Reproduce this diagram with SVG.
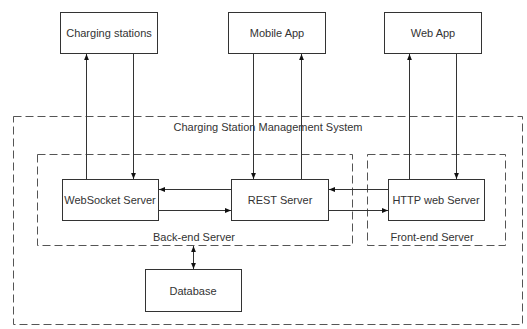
<svg xmlns="http://www.w3.org/2000/svg" width="527" height="329" viewBox="0 0 527 329">
<style>
.box{fill:#fff;stroke:#333;stroke-width:1}
.grp{fill:none;stroke:#555;stroke-width:1;stroke-dasharray:8 4}
.lbl{font-family:"Liberation Sans",Arial,sans-serif;font-size:11px;fill:#333;text-anchor:middle;dominant-baseline:central}
.cn{fill:none;stroke:#333;stroke-width:1}
</style>
<defs>
<marker id="ah" viewBox="0 0 10 10" refX="10" refY="5" markerWidth="6" markerHeight="6" orient="auto-start-reverse" markerUnits="userSpaceOnUse">
<path d="M0,1 L10,5 L0,9 Z" fill="#111"/>
</marker>
</defs>
<rect width="527" height="329" fill="#fff"/>
<g id="csms">
<rect class="grp" x="13.5" y="116.5" width="509" height="208"/>
<text class="lbl" x="268" y="127">Charging Station Management System</text>
</g>
<g id="backend">
<rect class="grp" x="37.5" y="154.5" width="315" height="91"/>
<text class="lbl" x="194" y="237">Back-end Server</text>
</g>
<g id="frontend">
<rect class="grp" x="367.5" y="154.5" width="138" height="91"/>
<text class="lbl" x="432" y="237">Front-end Server</text>
</g>
<g id="charging-stations">
<rect class="box" x="60.5" y="12.5" width="97" height="41"/>
<text class="lbl" x="109" y="33">Charging stations</text>
</g>
<g id="mobile-app">
<rect class="box" x="228.5" y="12.5" width="97" height="41"/>
<text class="lbl" x="277" y="33">Mobile App</text>
</g>
<g id="web-app">
<rect class="box" x="384.5" y="12.5" width="97" height="41"/>
<text class="lbl" x="433" y="33">Web App</text>
</g>
<g id="websocket-server">
<rect class="box" x="62.5" y="179.5" width="96" height="41"/>
<text class="lbl" x="110" y="200">WebSocket Server</text>
</g>
<g id="rest-server">
<rect class="box" x="231.5" y="179.5" width="97" height="41"/>
<text class="lbl" x="280" y="200">REST Server</text>
</g>
<g id="http-web-server">
<rect class="box" x="388.5" y="179.5" width="96" height="41"/>
<text class="lbl" x="436" y="200">HTTP web Server</text>
</g>
<g id="database">
<rect class="box" x="145.5" y="269.5" width="96" height="42"/>
<text class="lbl" x="193" y="291">Database</text>
</g>
<g id="connectors">
<path class="cn" d="M86.5,179 V54" marker-end="url(#ah)"/>
<path class="cn" d="M133.5,54 V179" marker-end="url(#ah)"/>
<path class="cn" d="M253.5,54 V179" marker-end="url(#ah)"/>
<path class="cn" d="M301.5,179 V54" marker-end="url(#ah)"/>
<path class="cn" d="M409.5,179 V54" marker-end="url(#ah)"/>
<path class="cn" d="M456.5,54 V179" marker-end="url(#ah)"/>
<path class="cn" d="M231,189.5 H159" marker-end="url(#ah)"/>
<path class="cn" d="M159,210.5 H231" marker-end="url(#ah)"/>
<path class="cn" d="M388,189.5 H329" marker-end="url(#ah)"/>
<path class="cn" d="M329,210.5 H388" marker-end="url(#ah)"/>
<path class="cn" d="M193.5,246 V269" marker-start="url(#ah)" marker-end="url(#ah)"/>
</g>
</svg>
